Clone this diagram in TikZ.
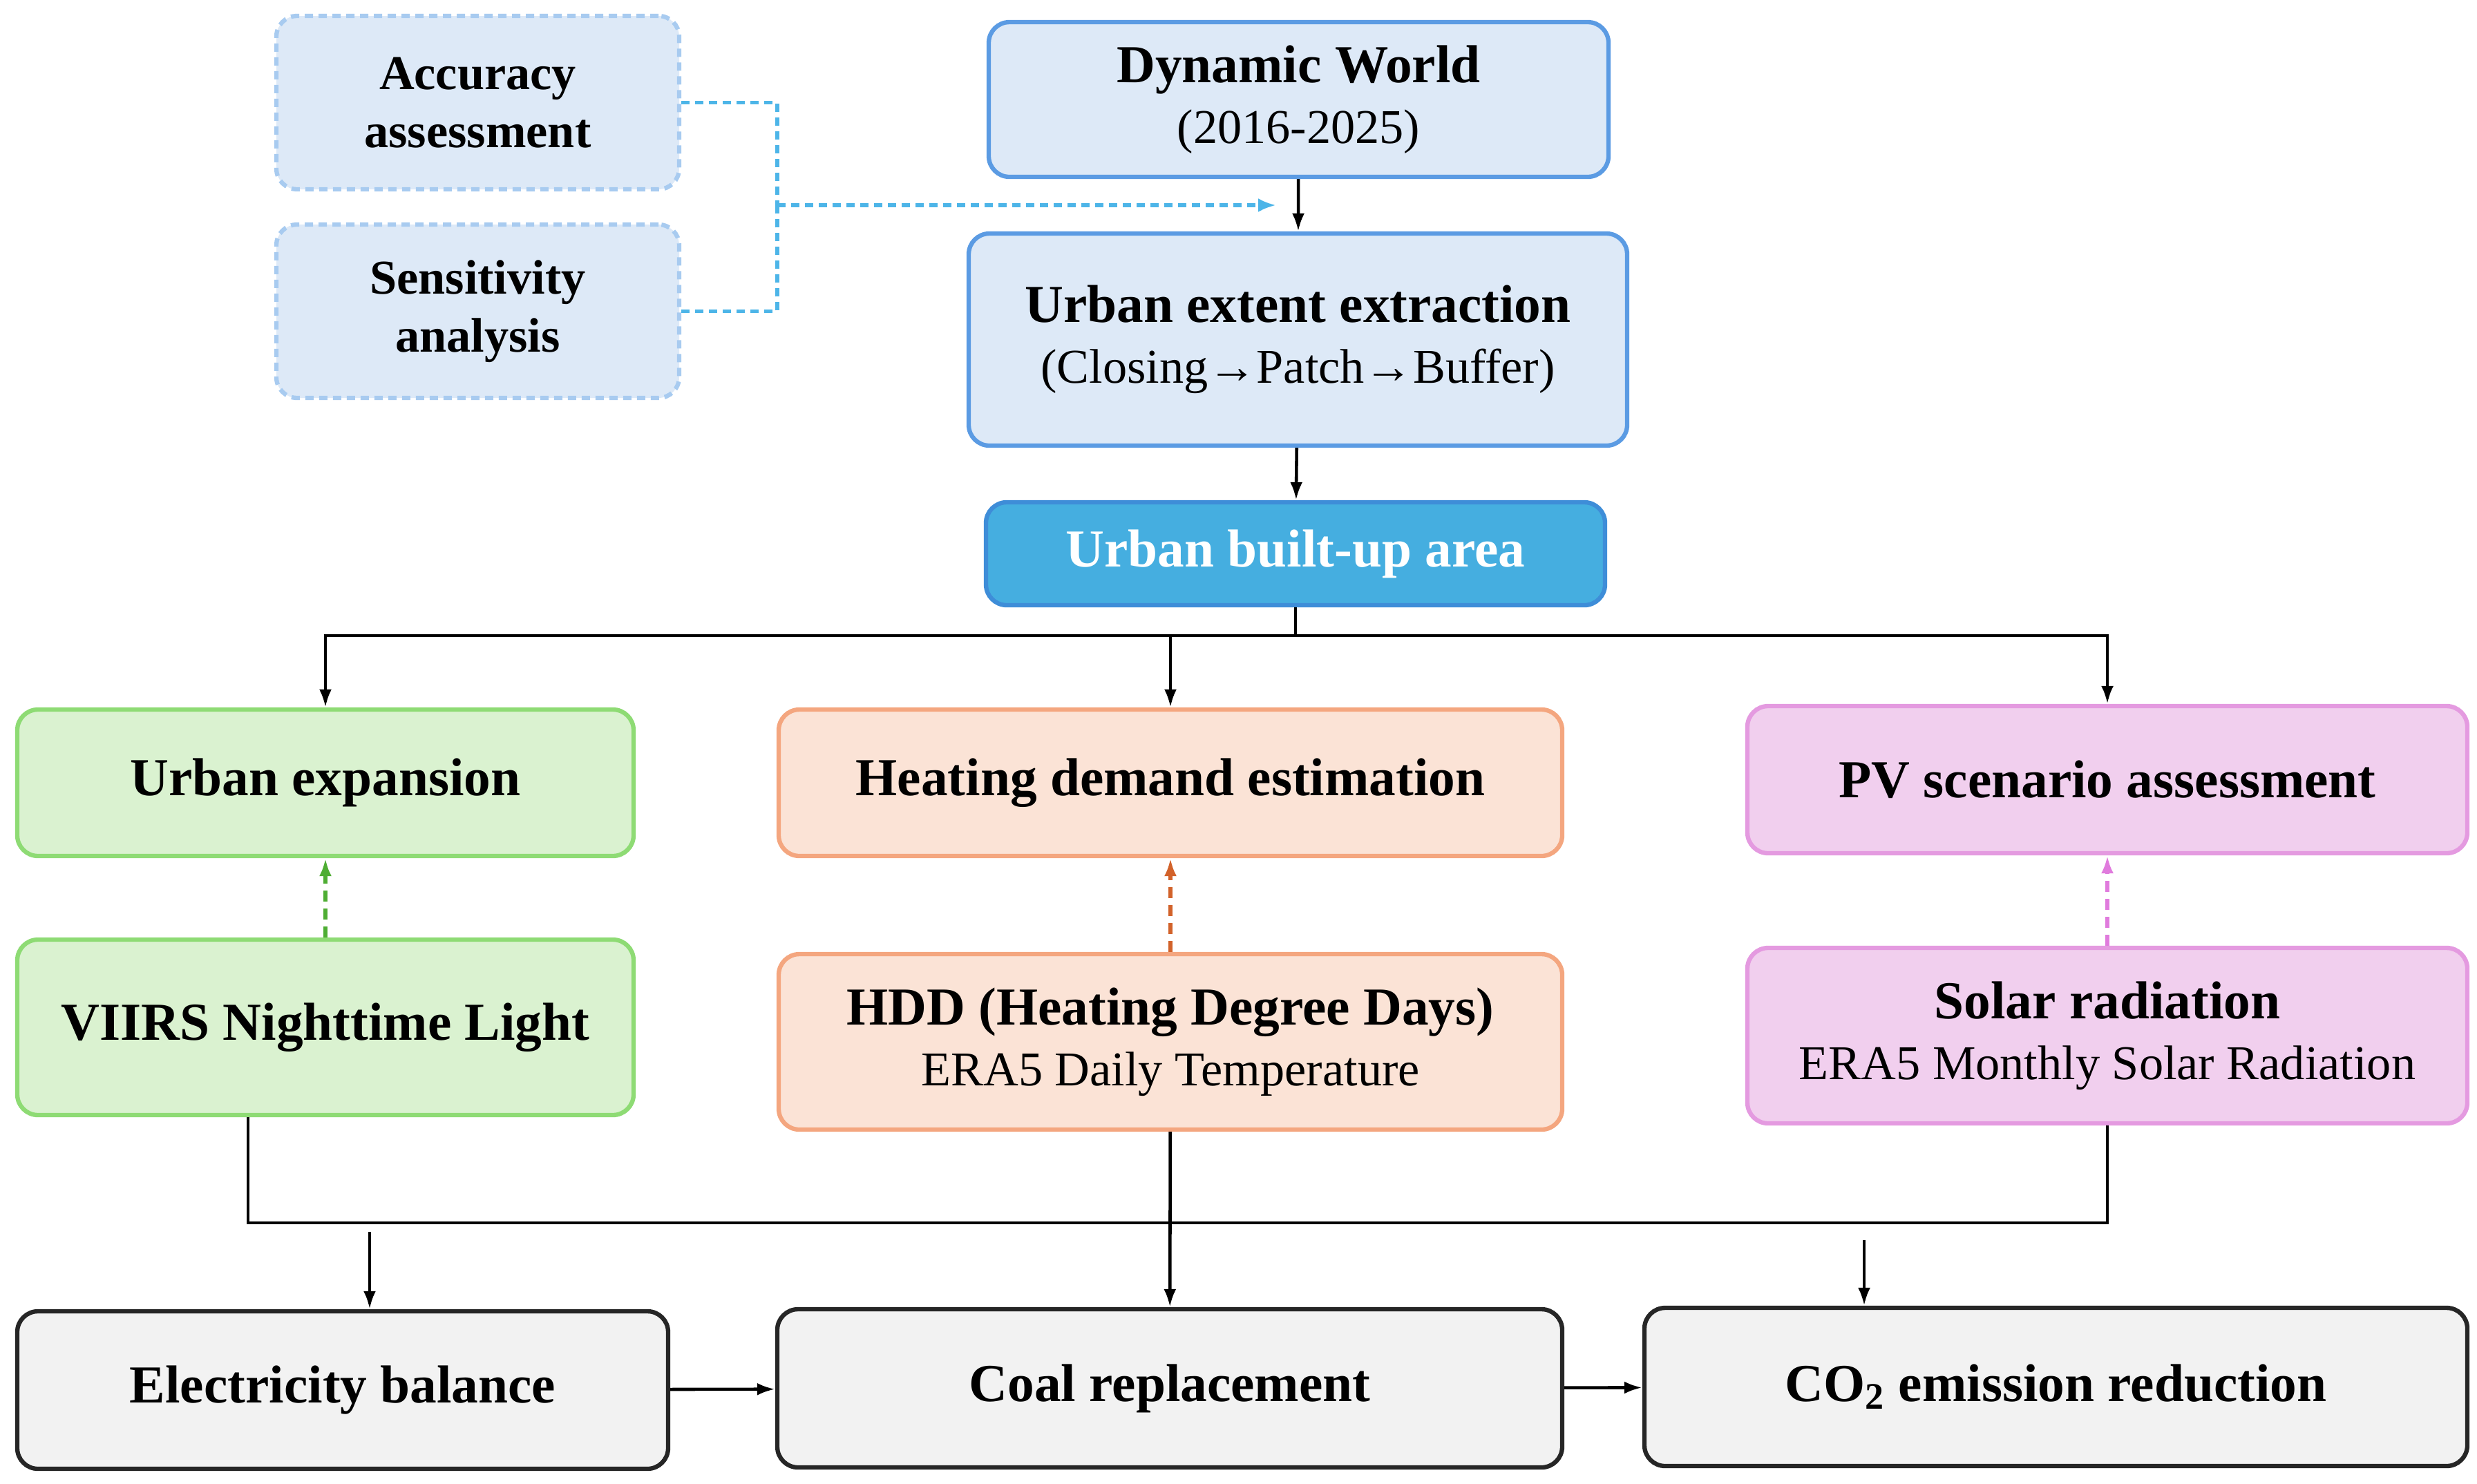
\documentclass[tikz,border=0pt]{standalone}
\usepackage{fontspec}
\setmainfont{Liberation Serif}
\usetikzlibrary{arrows.meta}

\definecolor{dwfill}{HTML}{DDE9F7}
\definecolor{dwline}{HTML}{5B9BE3}
\definecolor{dashbox}{HTML}{A8CBF0}
\definecolor{dashcon}{HTML}{4DB5E8}
\definecolor{ubafill}{HTML}{45AEE0}
\definecolor{ubaline}{HTML}{3E8DD8}
\definecolor{grfill}{HTML}{DAF2D0}
\definecolor{grline}{HTML}{8EDB74}
\definecolor{grarrow}{HTML}{4EAD33}
\definecolor{orfill}{HTML}{FBE3D6}
\definecolor{orline}{HTML}{F4A67F}
\definecolor{orarrow}{HTML}{D2622A}
\definecolor{pkfill}{HTML}{F1CFEE}
\definecolor{pkline}{HTML}{E49AE0}
\definecolor{pkarrow}{HTML}{E07BDD}
\definecolor{gyfill}{HTML}{F2F2F2}

\tikzset{
  box/.style={rounded corners=0.3cm, line width=1.8pt, align=center, inner sep=0pt,
    font=\fontsize{22}{25}\selectfont\bfseries},
  bluebox/.style={box, draw=dwline, fill=dwfill},
  dashbox/.style={box, draw=dashbox, fill=dwfill, dash pattern=on 1.2mm off 0.8mm,
    font=\fontsize{20}{24}\selectfont\bfseries},
  areabox/.style={box, draw=ubaline, fill=ubafill, text=white},
  greenbox/.style={box, draw=grline, fill=grfill},
  orangebox/.style={box, draw=orline, fill=orfill},
  pinkbox/.style={box, draw=pkline, fill=pkfill},
  graybox/.style={box, draw=black!85, fill=gyfill},
  conn/.style={line width=1.3pt, -{Latex[length=2.6mm,width=1.8mm]}},
  joint/.style={line width=1.3pt},
  bluedash/.style={dashcon, line width=1.6pt, dash pattern=on 1.2mm off 0.8mm},
  colordash/.style={line width=1.5pt, dash pattern=on 1.6mm off 1.0mm,
    -{Latex[length=2.6mm,width=1.8mm]}},
}
\newcommand{\subline}[1]{{\mdseries\fontsize{20}{25}\selectfont #1}}

\begin{document}
\begin{tikzpicture}
\useasboundingbox (0,0) rectangle (35.85,-21.47);

\node (acc) at (6.915,-1.485) [dashbox, minimum width=5.83cm, minimum height=2.51cm] {Accuracy\\assessment};
\node (sens) at (6.915,-4.505) [dashbox, minimum width=5.83cm, minimum height=2.51cm] {Sensitivity\\analysis};

\node (dw) at (18.795,-1.44) [bluebox, minimum width=8.97cm, minimum height=2.24cm] {Dynamic World\\\subline{(2016-2025)}};
\node (uee) at (18.785,-4.915) [bluebox, minimum width=9.53cm, minimum height=3.07cm] {Urban extent extraction\\\subline{(Closing→Patch→Buffer)}};
\node (uba) at (18.75,-8.015) [areabox, minimum width=8.96cm, minimum height=1.49cm] {Urban built-up area};

\node (uexp) at (4.71,-11.33) [greenbox, minimum width=8.92cm, minimum height=2.12cm] {Urban expansion};
\node (heat) at (16.94,-11.33) [orangebox, minimum width=11.34cm, minimum height=2.12cm] {Heating demand estimation};
\node (pv) at (30.50,-11.285) [pinkbox, minimum width=10.42cm, minimum height=2.13cm] {PV scenario assessment};

\node (viirs) at (4.71,-14.87) [greenbox, minimum width=8.92cm, minimum height=2.54cm] {VIIRS Nighttime Light};
\node (hdd) at (16.94,-15.08) [orangebox, minimum width=11.34cm, minimum height=2.54cm] {HDD (Heating Degree Days)\\\subline{ERA5 Daily Temperature}};
\node (solar) at (30.50,-14.99) [pinkbox, minimum width=10.42cm, minimum height=2.54cm] {Solar radiation\\\subline{ERA5 Monthly Solar Radiation}};

\node (elec) at (4.96,-20.12) [graybox, minimum width=9.42cm, minimum height=2.28cm] {Electricity balance};
\node (coal) at (16.93,-20.095) [graybox, minimum width=11.36cm, minimum height=2.29cm] {Coal replacement};
\node (co2) at (29.755,-20.075) [graybox, minimum width=11.91cm, minimum height=2.29cm] {CO\textsubscript{2} emission reduction};

\coordinate (dj) at (11.25,-2.97);
\coordinate (dtip) at (18.47,-2.97);
\draw[bluedash] (acc.east) -| (dj);
\draw[bluedash] (sens.east) -| (dj);
\draw[bluedash, -{Latex[length=2.6mm,width=2mm]}] (dj) -- (dtip);

\draw[conn] (dw) -- (uee);
\draw[conn] (uee) -- (uba);

\coordinate (split) at (18.75,-9.2);
\draw[joint] (uba) -- (split);
\draw[conn] (split) -| (uexp);
\draw[conn] (split) -| (pv);
\draw[conn] (heat |- split) -- (heat);

\draw[colordash, grarrow] (viirs) -- (uexp);
\draw[colordash, orarrow] (hdd) -- (heat);
\draw[colordash, pkarrow] (solar) -- (pv);

\coordinate (mL) at (3.59,-17.70);
\coordinate (mR) at (30.50,-17.70);
\draw[joint] (viirs.south -| mL) -- (mL) -- (mR) -- (solar);
\draw[conn] (hdd) -- (coal);

\coordinate (ein) at (5.35,-17.83);
\coordinate (cin) at (26.98,-17.95);
\draw[conn] (ein) -- (ein |- elec.north);
\draw[conn] (cin) -- (cin |- co2.north);

\draw[conn] (elec) -- (coal);
\draw[conn] (coal) -- (co2);
\end{tikzpicture}
\end{document}
